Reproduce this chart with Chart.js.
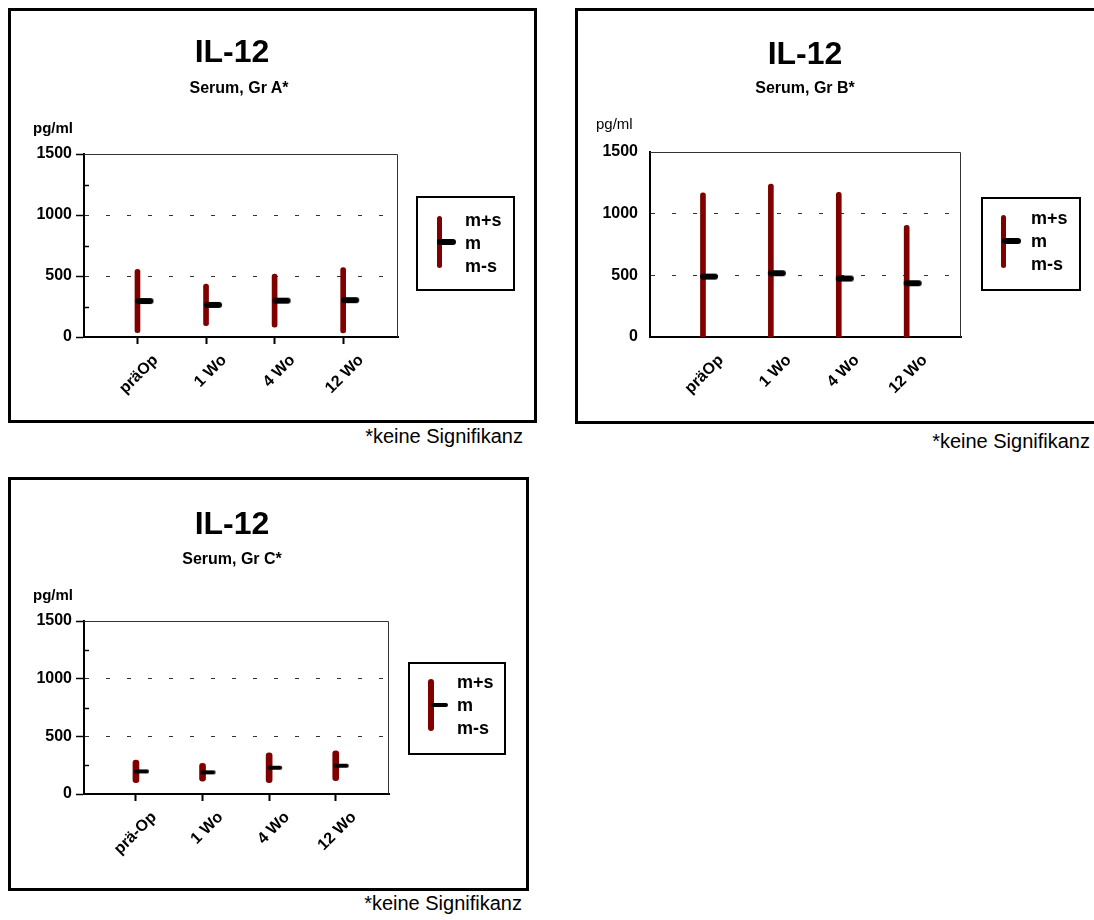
<!DOCTYPE html>
<html>
<head>
<meta charset="utf-8">
<script src="https://cdn.jsdelivr.net/npm/chart.js@4.4.1/dist/chart.umd.min.js"></script>
<style>
  html, body { margin: 0; padding: 0; background: #fff; }
  body { position: relative; width: 1094px; height: 920px; overflow: hidden;
         font-family: "Liberation Sans", Arial, Helvetica, sans-serif; color: #000; }
  .box { position: absolute; border: 3px solid #000; box-sizing: border-box; }
  canvas { position: absolute; }
  .t { position: absolute; white-space: nowrap; line-height: 1; }
  .title { font-size: 32px; font-weight: bold; width: 400px; text-align: center; }
  .sub { font-size: 16px; font-weight: bold; width: 400px; text-align: center; }
  .unit { font-size: 15px; font-weight: bold; }
  .note { font-size: 20px; text-align: right; }
  .lg { position: absolute; border: 2px solid #000; box-sizing: border-box; }
  .lgtxt { position: absolute; font-size: 18px; font-weight: bold; line-height: 23px; white-space: nowrap; }
  .rbar { position: absolute; background: #800000; border-radius: 3px; }
  .bmark { position: absolute; background: #000; border-radius: 3px; }
</style>
</head>
<body>

<!-- panel frames -->
<div class="box" style="left:8px;top:8px;width:529px;height:415px"></div>
<div class="box" style="left:575px;top:8px;width:530px;height:416px"></div>
<div class="box" style="left:8px;top:477px;width:521px;height:414px"></div>

<canvas id="chartA"></canvas>
<canvas id="chartB"></canvas>
<canvas id="chartC"></canvas>

<!-- headings -->
<div class="t title" style="left:32px;top:35px">IL-12</div>
<div class="t sub" style="left:39px;top:79.5px">Serum, Gr A*</div>
<div class="t unit" style="left:33px;top:120px">pg/ml</div>

<div class="t title" style="left:605px;top:37px">IL-12</div>
<div class="t sub" style="left:605px;top:79.5px">Serum, Gr B*</div>
<div class="t unit" style="left:596px;top:116px;font-weight:normal">pg/ml</div>

<div class="t title" style="left:32px;top:507px">IL-12</div>
<div class="t sub" style="left:32px;top:550.5px">Serum, Gr C*</div>
<div class="t unit" style="left:33px;top:587px">pg/ml</div>

<!-- legends -->
<div class="lg" style="left:416px;top:196px;width:99px;height:95px"></div>
<div class="rbar" style="left:436.5px;top:216px;width:5px;height:52px"></div>
<div class="bmark" style="left:437px;top:239px;width:19px;height:6px"></div>
<div class="lgtxt" style="left:465px;top:208.6px">m+s<br>m<br>m-s</div>

<div class="lg" style="left:981px;top:197px;width:100px;height:94px"></div>
<div class="rbar" style="left:1000.5px;top:215px;width:5px;height:53px"></div>
<div class="bmark" style="left:1002px;top:238px;width:19px;height:6px"></div>
<div class="lgtxt" style="left:1031px;top:206.6px">m+s<br>m<br>m-s</div>

<div class="lg" style="left:408px;top:662px;width:98px;height:93px"></div>
<div class="rbar" style="left:428px;top:679px;width:6px;height:52px"></div>
<div class="bmark" style="left:431px;top:703px;width:17px;height:4px;border-radius:2px"></div>
<div class="lgtxt" style="left:457px;top:670.6px">m+s<br>m<br>m-s</div>

<!-- footnotes -->
<div class="t note" style="right:571px;top:426px">*keine Signifikanz</div>
<div class="t note" style="right:4px;top:431px">*keine Signifikanz</div>
<div class="t note" style="right:572px;top:893px">*keine Signifikanz</div>

<script>
// time points
const categoriesAB = ['präOp', '1 Wo', '4 Wo', '12 Wo'];
const categoriesC = ['prä-Op', '1 Wo', '4 Wo', '12 Wo'];

// y axis: labelled ticks and the small in-between ticks
const yTickLabels = [0, 500, 1000, 1500];
const yMinorTicks = [250, 750, 1250];

// IL-12 serum, pg/ml: mean (m) and standard deviation (s)
const meanA = [295, 263, 298, 302];
const sdA   = [260, 171, 218, 268];

const meanB = [490, 517, 474, 436];
const sdB   = [679, 722, 698, 469];

const meanC = [196, 188, 228, 245];
const sdC   = [98, 77, 130, 130];

const FONT = '"Liberation Sans", Arial, Helvetica, sans-serif';
const RED = '#800000';

// black mean marker: a short round-capped stroke starting at the whisker, pointing right
function meanMarker(width, from, to) {
  const half = Math.ceil(Math.max(Math.abs(from), Math.abs(to)) + width);
  const c = document.createElement('canvas');
  c.width = half * 2;
  c.height = Math.ceil(width) + 4;
  const g = c.getContext('2d');
  g.strokeStyle = '#000';
  g.lineWidth = width;
  g.lineCap = 'round';
  g.beginPath();
  g.moveTo(half + from, c.height / 2);
  g.lineTo(half + to, c.height / 2);
  g.stroke();
  return c;
}

// thin top/right frame and the inner minor ticks of the value axis
const framePlugin = {
  id: 'frame',
  beforeDatasetsDraw(chart, args, opts) {
    const { ctx, chartArea: { left, right, top, bottom } } = chart;
    ctx.save();
    ctx.strokeStyle = '#333';
    ctx.lineWidth = 1;
    ctx.beginPath();
    ctx.moveTo(left, top + 0.5);
    ctx.lineTo(right - 0.5, top + 0.5);
    ctx.lineTo(right - 0.5, bottom);
    ctx.stroke();
    if (opts.minorTicks) {
      const ys = chart.scales.y;
      ctx.strokeStyle = '#000';
      ctx.lineWidth = 1.5;
      ctx.beginPath();
      yMinorTicks.forEach(v => {
        const py = Math.round(ys.getPixelForValue(v)) + 0.5;
        ctx.moveTo(left, py);
        ctx.lineTo(left + 5, py);
      });
      ctx.stroke();
    }
    ctx.restore();
  }
};

function buildPanel(p) {
  const cv = document.getElementById(p.id);
  const c = p.canvas;
  cv.width = c.w; cv.height = c.h;
  cv.style.left = c.x + 'px'; cv.style.top = c.y + 'px';
  cv.style.width = c.w + 'px'; cv.style.height = c.h + 'px';

  const a = p.area;
  const yWidth = a.left - c.x;
  const xHeight = c.y + c.h - a.bottom;
  const padTop = a.top - c.y;
  const padRight = c.x + c.w - a.right;

  const cats = p.categories;
  const ranges = cats.map((_, i) => ({ x: i, y: [p.mean[i] - p.sd[i], p.mean[i] + p.sd[i]] }));
  const means = cats.map((_, i) => ({ x: i, y: p.mean[i] }));

  new Chart(cv, {
    type: 'bar',
    data: {
      datasets: [
        {
          type: 'scatter',
          data: means,
          pointStyle: meanMarker(p.markWidth, p.markFrom, p.markTo),
          pointRadius: 6,
          pointHoverRadius: 6
        },
        {
          type: 'bar',
          data: ranges,
          backgroundColor: RED,
          barThickness: p.barWidth,
          borderRadius: p.barWidth / 2,
          borderSkipped: false
        }
      ]
    },
    options: {
      responsive: false,
      animation: false,
      events: [],
      layout: { padding: { top: padTop, right: padRight, bottom: 0, left: 0 } },
      plugins: {
        legend: { display: false },
        tooltip: { enabled: false },
        title: { display: false },
        frame: { minorTicks: p.ticks }
      },
      scales: {
        x: {
          type: 'linear',
          offset: false,
          min: -0.78,
          max: 3.8,
          afterBuildTicks(s) { s.ticks = cats.map((_, i) => ({ value: i })); },
          afterFit(s) { s.height = xHeight; s.paddingLeft = 0; s.paddingRight = 0; },
          ticks: {
            autoSkip: false,
            minRotation: 45,
            maxRotation: 45,
            labelOffset: 18,
            padding: 7,
            color: '#000',
            font: { family: FONT, size: 16, weight: 'bold' },
            callback: v => cats[v]
          },
          grid: {
            offset: false,
            drawOnChartArea: false,
            drawTicks: true,
            tickLength: 7,
            tickWidth: 2,
            tickColor: p.ticks ? '#000' : 'rgba(0,0,0,0)'
          },
          border: { display: true, color: '#000', width: 2 }
        },
        y: {
          min: 0,
          max: 1500,
          afterBuildTicks(s) {
            s.ticks = yTickLabels.concat(yMinorTicks).sort((m, n) => m - n).map(v => ({ value: v }));
          },
          afterFit(s) { s.width = yWidth; s.paddingTop = 0; s.paddingBottom = 0; },
          ticks: {
            autoSkip: false,
            padding: 4,
            color: '#000',
            font: { family: FONT, size: 16, weight: 'bold' },
            callback: v => (yTickLabels.includes(v) ? String(v) : '')
          },
          grid: {
            drawOnChartArea: true,
            lineWidth: 1,
            color: ctx => (ctx.tick && ctx.tick.value > 0 && yTickLabels.includes(ctx.tick.value)) ? '#333' : 'rgba(0,0,0,0)',
            tickLength: 8,
            tickWidth: 1.5,
            tickColor: ctx => (p.ticks && ctx.tick && yTickLabels.includes(ctx.tick.value)) ? '#000' : 'rgba(0,0,0,0)'
          },
          border: { display: true, color: '#000', width: 2, dash: [4, 17] }
        }
      }
    },
    plugins: [framePlugin]
  });
}

buildPanel({
  id: 'chartA', categories: categoriesAB, mean: meanA, sd: sdA,
  canvas: { x: 11, y: 11, w: 523, h: 409 },
  area: { left: 84, top: 154, right: 398, bottom: 337 },
  barWidth: 5, markWidth: 6, markFrom: 1, markTo: 13, ticks: true
});
buildPanel({
  id: 'chartB', categories: categoriesAB, mean: meanB, sd: sdB,
  canvas: { x: 578, y: 11, w: 516, h: 410 },
  area: { left: 650, top: 152, right: 961, bottom: 337 },
  barWidth: 5, markWidth: 6, markFrom: 0, markTo: 12, ticks: false
});
buildPanel({
  id: 'chartC', categories: categoriesC, mean: meanC, sd: sdC,
  canvas: { x: 11, y: 480, w: 515, h: 408 },
  area: { left: 84, top: 621, right: 389, bottom: 794 },
  barWidth: 6, markWidth: 4, markFrom: 0, markTo: 11, ticks: true
});
</script>
</body>
</html>
